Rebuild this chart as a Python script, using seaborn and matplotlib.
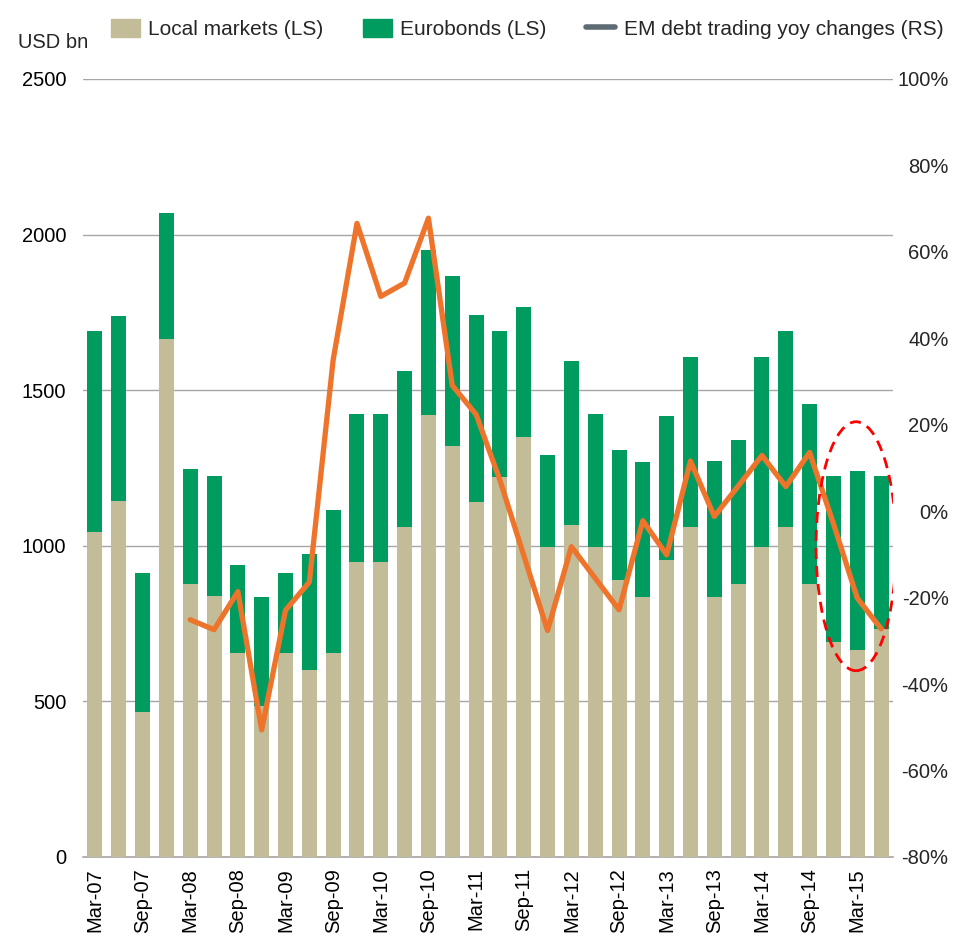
import numpy as np
import pandas as pd
import seaborn as sns
import matplotlib.pyplot as plt
from matplotlib.patches import Patch, Ellipse
from matplotlib.lines import Line2D
from matplotlib.ticker import FuncFormatter

quarters = ["Mar-07", "Jun-07", "Sep-07", "Dec-07", "Mar-08", "Jun-08", "Sep-08", "Dec-08",
            "Mar-09", "Jun-09", "Sep-09", "Dec-09", "Mar-10", "Jun-10", "Sep-10", "Dec-10",
            "Mar-11", "Jun-11", "Sep-11", "Dec-11", "Mar-12", "Jun-12", "Sep-12", "Dec-12",
            "Mar-13", "Jun-13", "Sep-13", "Dec-13", "Mar-14", "Jun-14", "Sep-14", "Dec-14",
            "Mar-15", "Jun-15"]
local = [1043, 1143, 465, 1663, 876, 840, 657, 486,
         657, 600, 657, 947, 947, 1060, 1419, 1320,
         1141, 1222, 1351, 995, 1066, 996, 891, 836,
         953, 1061, 836, 876, 996, 1059, 876, 690,
         664, 734]
total = [1689, 1740, 914, 2071, 1247, 1224, 938, 837,
         914, 974, 1116, 1422, 1422, 1563, 1950, 1868,
         1743, 1689, 1766, 1291, 1594, 1422, 1307, 1268,
         1416, 1606, 1272, 1341, 1606, 1689, 1457, 1223,
         1240, 1223]
yoy = [np.nan, np.nan, np.nan, np.nan, -25.1, -27.4, -18.6, -50.6,
       -22.9, -16.4, 35.0, 66.6, 49.7, 52.8, 67.8, 29.1,
       22.4, 7.2, -10.2, -27.6, -8.2, -15.5, -22.8, -2.2,
       -10.1, 11.6, -1.2, 5.8, 12.9, 5.7, 13.6, -2.9,
       -20.1, -27.2]

df = pd.DataFrame({"quarter": quarters, "local": local, "total": total, "yoy": yoy})
df["pos"] = np.arange(len(df))

beige = "#C2BC99"
green = "#009B5F"
orange = "#EE742C"
grey = "#A6A6A6"

sns.set_style("white")
plt.rcParams["font.family"] = ["Liberation Sans", "DejaVu Sans"]
plt.rcParams["font.size"] = 14

fig = plt.figure(figsize=(9.73, 9.39), dpi=100)
ax = fig.add_axes([83 / 973, 1 - 857 / 939, (893 - 83) / 973, (857 - 79) / 939])

sns.barplot(data=df, x="quarter", y="total", color=green, width=0.63, saturation=1,
            linewidth=0, edgecolor="none", ax=ax, zorder=2)
sns.barplot(data=df, x="quarter", y="local", color=beige, width=0.63, saturation=1,
            linewidth=0, edgecolor="none", ax=ax, zorder=3)

ax.set_ylim(0, 2500)
ax.set_yticks(range(0, 2501, 500))
ax.set_xlim(-0.5, len(df) - 0.5)
ax.yaxis.grid(True, color=grey, lw=1)
ax.set_axisbelow(True)
for s in ["top", "left", "right"]:
    ax.spines[s].set_visible(False)
ax.spines["bottom"].set_color(grey)
ax.spines["bottom"].set_linewidth(1.2)
ax.set_xlabel("")
ax.set_ylabel("")
ax.set_xticks(df["pos"][::2])
ax.set_xticklabels(df["quarter"][::2], rotation=90, va="top", ha="center")
ax.tick_params(axis="both", length=0, labelsize=14.5, colors="black")
ax.tick_params(axis="y", pad=12)
ax.tick_params(axis="x", pad=8)

ax2 = ax.twinx()
sns.lineplot(data=df, x="pos", y="yoy", color=orange, lw=3.8, ax=ax2, zorder=4)
ax2.set_ylim(-80, 100)
ax2.set_yticks(range(-80, 101, 20))
ax2.yaxis.set_major_formatter(FuncFormatter(lambda v, p: f"{v:.0f}%"))
ax2.set_ylabel("")
ax2.tick_params(axis="y", length=0, labelsize=14.5, pad=40)
for lab in ax2.get_yticklabels():
    lab.set_ha("right")
for s in ax2.spines.values():
    s.set_visible(False)
ax2.grid(False)
ax2.set_xlim(-0.5, len(df) - 0.5)

ax2.add_patch(Ellipse((31.95, -8.1), 3.36, 57.6, fill=False, edgecolor="#FF0000",
                      lw=2, ls=(0, (4, 2.5)), zorder=5))

handles = [Patch(color=beige), Patch(color=green), Line2D([], [], color="#5F6B73", lw=4)]
labels = ["Local markets (LS)", "Eurobonds (LS)", "EM debt trading yoy changes (RS)"]
fig.legend(handles, labels, loc="center", bbox_to_anchor=(527 / 973, 1 - 29 / 939), ncol=3,
           frameon=False, fontsize=15, handlelength=1.4, handleheight=0.95,
           handletextpad=0.4, columnspacing=1.9, borderaxespad=0)
fig.text(18 / 973, 1 - 43 / 939, "USD bn", fontsize=14.5, va="center", ha="left")

fig.savefig("out.png", dpi=100)
